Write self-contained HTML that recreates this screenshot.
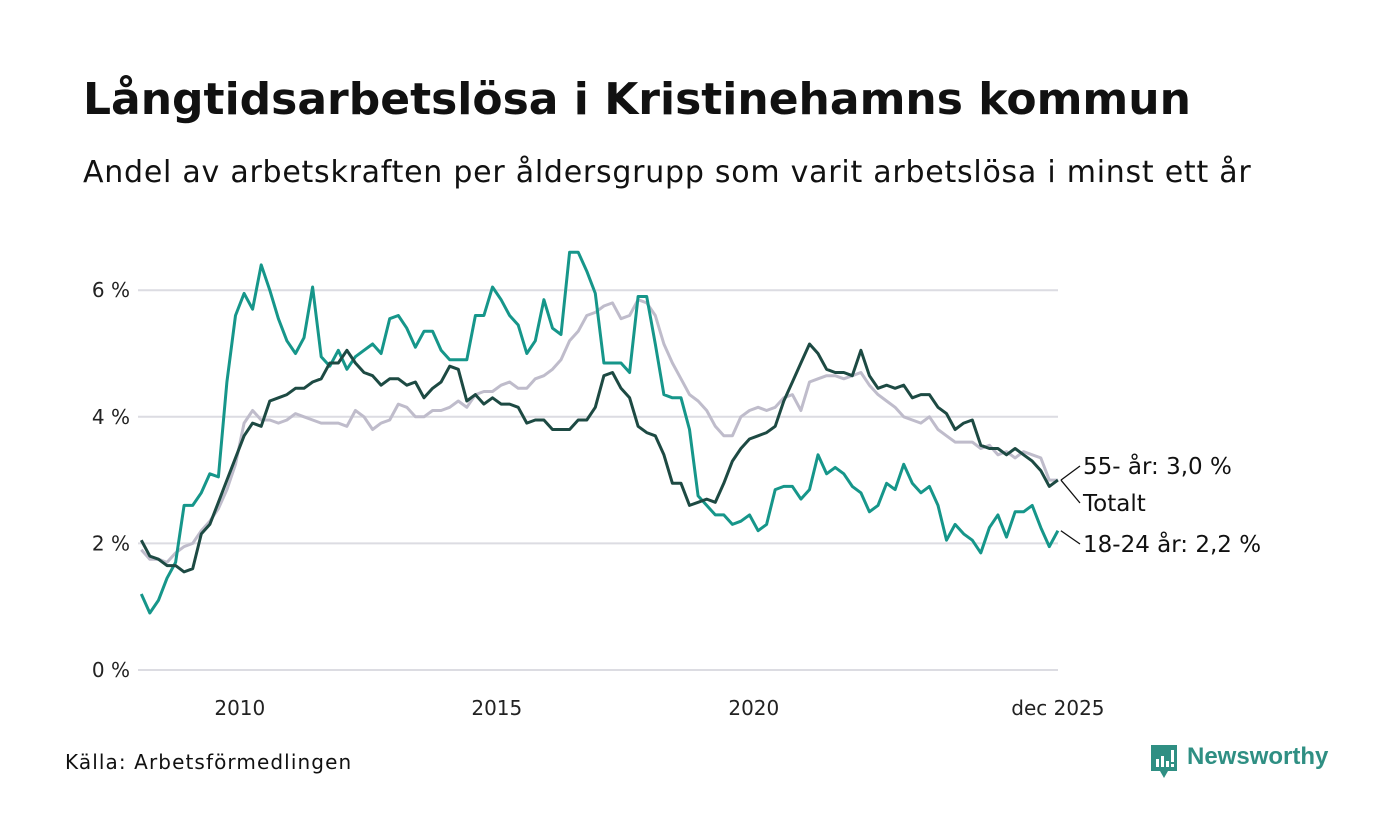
<!DOCTYPE html>
<html><head><meta charset="utf-8"><style>
body{margin:0;background:#fff;}
#wrap{position:relative;width:1400px;height:840px;font-family:"DejaVu Sans","Liberation Sans",sans-serif;color:#111;}
.t{position:absolute;white-space:nowrap;}
</style></head><body>
<div id="wrap">
<div class="t" style="left:83px;top:74px;font-size:44px;font-weight:bold;letter-spacing:0px;">Långtidsarbetslösa i Kristinehamns kommun</div>
<div class="t" style="left:83px;top:155px;font-size:30px;letter-spacing:0.75px;">Andel av arbetskraften per åldersgrupp som varit arbetslösa i minst ett år</div>
<svg id="chart" width="1400" height="840" style="position:absolute;left:0;top:0"></svg>
<div class="t" style="left:65px;top:750px;font-size:20px;letter-spacing:1.1px;">Källa: Arbetsförmedlingen</div>
<div style="position:absolute;left:1149px;top:745px;">
<svg width="30" height="34"><path d="M2 0h26v26h-9l-4 7-4-7H2z" fill="#2f8f83"/><rect x="7" y="14" width="3" height="8" fill="#fff"/><rect x="12" y="11" width="3" height="11" fill="#fff"/><rect x="17" y="16" width="3" height="6" fill="#fff"/><rect x="22" y="5" width="3" height="12" fill="#fff"/><rect x="22" y="19" width="3" height="3" fill="#fff"/></svg>
<span style="position:absolute;left:38px;top:-2px;font-size:24px;font-weight:bold;color:#2f8f83;font-family:'Liberation Sans',sans-serif;">Newsworthy</span>
</div>
</div>
<script>
const yTicks=[0,2,4,6];
const yTickLabels=["0 %","2 %","4 %","6 %"];
const xTickYears=[2010,2015,2020];
const startYear=2008;
const stepMonths=2;
const total=[2.05,1.8,1.75,1.65,1.65,1.55,1.6,2.15,2.3,2.65,3.0,3.35,3.7,3.9,3.85,4.25,4.3,4.35,4.45,4.45,4.55,4.6,4.85,4.85,5.05,4.85,4.7,4.65,4.5,4.6,4.6,4.5,4.55,4.3,4.45,4.55,4.8,4.75,4.25,4.35,4.2,4.3,4.2,4.2,4.15,3.9,3.95,3.95,3.8,3.8,3.8,3.95,3.95,4.15,4.65,4.7,4.45,4.3,3.85,3.75,3.7,3.4,2.95,2.95,2.6,2.65,2.7,2.65,2.95,3.3,3.5,3.65,3.7,3.75,3.85,4.25,4.55,4.85,5.15,5.0,4.75,4.7,4.7,4.65,5.05,4.65,4.45,4.5,4.45,4.5,4.3,4.35,4.35,4.15,4.05,3.8,3.9,3.95,3.55,3.5,3.5,3.4,3.5,3.4,3.3,3.15,2.9,3.0];
const young=[1.2,0.9,1.1,1.45,1.7,2.6,2.6,2.8,3.1,3.05,4.55,5.6,5.95,5.7,6.4,6.0,5.55,5.2,5.0,5.25,6.05,4.95,4.8,5.05,4.75,4.95,5.05,5.15,5.0,5.55,5.6,5.4,5.1,5.35,5.35,5.05,4.9,4.9,4.9,5.6,5.6,6.05,5.85,5.6,5.45,5.0,5.2,5.85,5.4,5.3,6.6,6.6,6.3,5.95,4.85,4.85,4.85,4.7,5.9,5.9,5.15,4.35,4.3,4.3,3.8,2.75,2.6,2.45,2.45,2.3,2.35,2.45,2.2,2.3,2.85,2.9,2.9,2.7,2.85,3.4,3.1,3.2,3.1,2.9,2.8,2.5,2.6,2.95,2.85,3.25,2.95,2.8,2.9,2.6,2.05,2.3,2.15,2.05,1.85,2.25,2.45,2.1,2.5,2.5,2.6,2.25,1.95,2.2];
const senior=[1.9,1.75,1.75,1.7,1.85,1.95,2.0,2.2,2.35,2.55,2.85,3.25,3.9,4.1,3.95,3.95,3.9,3.95,4.05,4.0,3.95,3.9,3.9,3.9,3.85,4.1,4.0,3.8,3.9,3.95,4.2,4.15,4.0,4.0,4.1,4.1,4.15,4.25,4.15,4.35,4.4,4.4,4.5,4.55,4.45,4.45,4.6,4.65,4.75,4.9,5.2,5.35,5.6,5.65,5.75,5.8,5.55,5.6,5.85,5.8,5.6,5.15,4.85,4.6,4.35,4.25,4.1,3.85,3.7,3.7,4.0,4.1,4.15,4.1,4.15,4.3,4.35,4.1,4.55,4.6,4.65,4.65,4.6,4.65,4.7,4.5,4.35,4.25,4.15,4.0,3.95,3.9,4.0,3.8,3.7,3.6,3.6,3.6,3.5,3.55,3.4,3.45,3.35,3.45,3.4,3.35,3.0,3.0];
const seriesNames=["55- år: 3,0 %","Totalt","18-24 år: 2,2 %"];

const svg=document.getElementById('chart');
const NS='http://www.w3.org/2000/svg';
const FONT='DejaVu Sans, Liberation Sans, sans-serif';
const x0=137,pxPerYear=51.4,y0=670,pxPerPct=63.3;
function xScale(year){return x0+(year-startYear)*pxPerYear;}
function yScale(v){return y0-v*pxPerPct;}
function idxYear(i){return startYear+(1+i*stepMonths)/12;}
function mk(tag,attrs){const e=document.createElementNS(NS,tag);for(const k in attrs)e.setAttribute(k,attrs[k]);svg.appendChild(e);return e;}
yTicks.forEach((v,i)=>{
 const g=mk('line',{x1:138,x2:1058,y1:yScale(v),y2:yScale(v),stroke:'#dcdce2','stroke-width':2});
 
 
 const t=mk('text',{x:130,y:yScale(v)+7,'text-anchor':'end','font-size':20,fill:'#222','font-family':FONT});
 t.textContent=yTickLabels[i];
 
 
});
xTickYears.forEach(yr=>{
 const t=mk('text',{x:xScale(yr),y:715,'text-anchor':'middle','font-size':20,fill:'#222','font-family':FONT});
 t.textContent=String(yr);
 
 
});
const lastT=mk('text',{x:xScale(idxYear(total.length-1)),y:715,'text-anchor':'middle','font-size':20,fill:'#222','font-family':FONT});
lastT.textContent='dec 2025';


function drawLine(arr,color,name){
 const d=arr.map((v,i)=>(i?'L':'M')+xScale(idxYear(i)).toFixed(1)+','+yScale(v).toFixed(1)).join('');
 const p=mk('path',{d:d,fill:'none',stroke:color,'stroke-width':3,'stroke-linejoin':'round'});
 
 
}
drawLine(senior,'#bfbccb','line-55-plus');
drawLine(young,'#16968a','line-18-24');
drawLine(total,'#1d4a43','line-totalt');
function endLabel(arr,ty,text,name){
 const ex=xScale(idxYear(arr.length-1)),ey=yScale(arr[arr.length-1]);
 const l=mk('line',{x1:ex+3,y1:ey,x2:1080,y2:ty-8,stroke:'#111','stroke-width':1.3});
 
 
 const t=mk('text',{x:1083,y:ty,'font-size':23,fill:'#111','font-family':FONT});
 t.textContent=text;
 
 
}
endLabel(senior,474,seriesNames[0],'label-55-plus');
endLabel(total,511,seriesNames[1],'label-totalt');
endLabel(young,552,seriesNames[2],'label-18-24');
</script>
</body></html>
